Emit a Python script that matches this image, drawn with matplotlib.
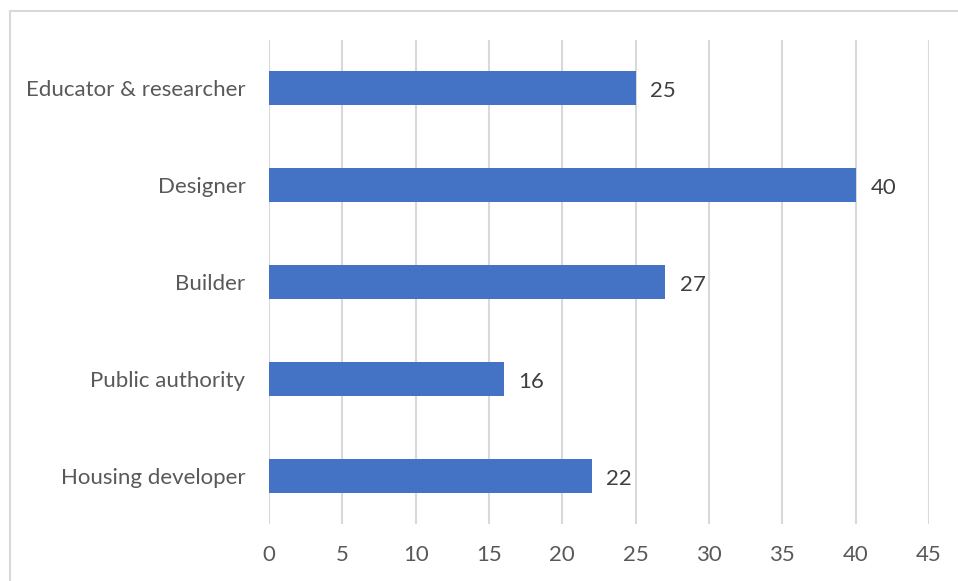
import matplotlib.pyplot as plt
from matplotlib.lines import Line2D

roles = ['Educator & researcher', 'Designer', 'Builder', 'Public authority', 'Housing developer']
counts = [25, 40, 27, 16, 22]
xticks = [0, 5, 10, 15, 20, 25, 30, 35, 40, 45]

plt.rcParams['font.family'] = ['Lato', 'DejaVu Sans']

fig = plt.figure(figsize=(9.58, 5.81), dpi=100)
ax = fig.add_axes([269 / 958, 1 - 524 / 581, 660 / 958, 484 / 581])

pos = list(range(len(roles)))
ax.barh(pos, counts, height=0.35, color='#4472C4', zorder=3)
for y, v in zip(pos, counts):
    ax.text(v + 1.0, y + 0.03, str(v), va='center', ha='left', fontsize=16, color='#404040')

ax.set_ylim(len(roles) - 0.5, -0.5)
ax.set_yticks(pos)
ax.set_yticklabels(roles, fontsize=16, color='#595959')
ax.set_xlim(0, 45)
ax.set_xticks(xticks)
ax.set_xticklabels([str(t) for t in xticks], fontsize=16, color='#595959')
ax.tick_params(length=0)
ax.tick_params(axis='y', pad=17)
ax.tick_params(axis='x', pad=15)
ax.grid(axis='x', color='#D9D9D9', linewidth=1.5, zorder=0)
for s in ax.spines.values():
    s.set_visible(False)

# chart frame, only the top and left edges fall inside the image
fig.add_artist(Line2D([9.5 / 958, 9.5 / 958], [0, 1 - 10.5 / 581],
                      transform=fig.transFigure, color='#D9D9D9', linewidth=1.5))
fig.add_artist(Line2D([9.5 / 958, 1], [1 - 10.5 / 581, 1 - 10.5 / 581],
                      transform=fig.transFigure, color='#D9D9D9', linewidth=1.5))

fig.savefig('out.png', dpi=100)
